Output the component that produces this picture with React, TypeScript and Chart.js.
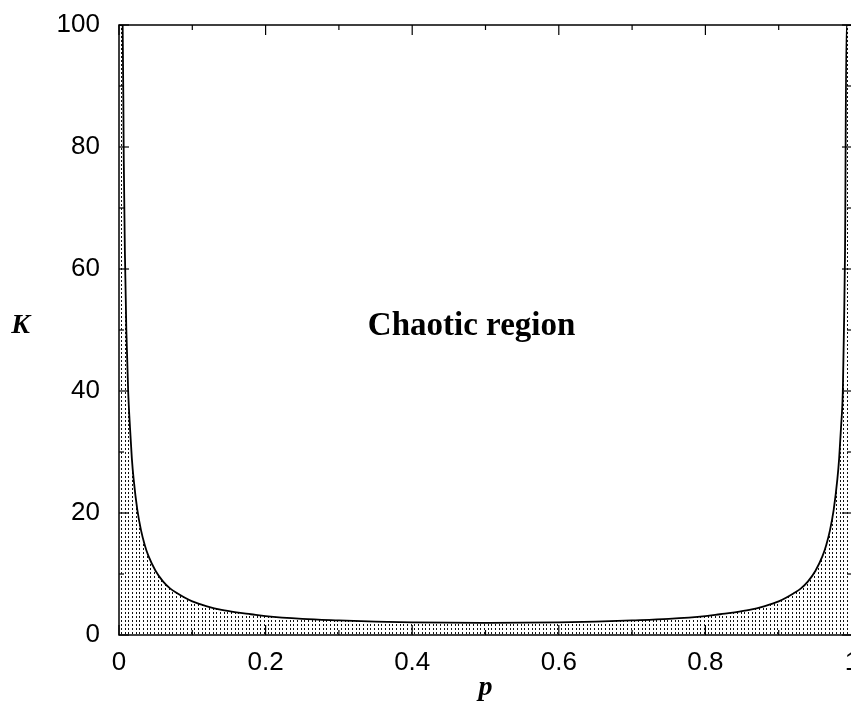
import React, { useEffect, useRef } from "react";
import { Chart, registerables } from "chart.js";

Chart.register(...registerables);

// p (x axis) and K (y axis)
const pValues = [
  0, 0.005, 0.0065, 0.008, 0.01, 0.0125, 0.015, 0.0175, 0.02, 0.025, 0.03, 0.035, 0.04, 0.05,
  0.06, 0.07, 0.08, 0.09, 0.1, 0.12, 0.14, 0.16, 0.18, 0.2, 0.25, 0.3, 0.35, 0.4, 0.45,
  0.5,
  0.55, 0.6, 0.65, 0.7, 0.75, 0.8, 0.82, 0.84, 0.86, 0.88, 0.9, 0.91, 0.92, 0.93, 0.94,
  0.95, 0.96, 0.965, 0.97, 0.975, 0.98, 0.9825, 0.985, 0.9875, 0.989, 0.9905, 0.9925, 1,
];
const kValues = [
  100, 100, 78, 63, 50, 40, 34, 29, 25.5, 20.5, 17.2, 14.8, 13, 10.5,
  8.8, 7.6, 6.8, 6.1, 5.5, 4.7, 4.1, 3.7, 3.4, 3.1, 2.65, 2.4, 2.2, 2.08, 2.02,
  2.0,
  2.02, 2.08, 2.2, 2.4, 2.65, 3.1, 3.4, 3.7, 4.1, 4.7, 5.5, 6.1, 6.8, 7.6, 8.8,
  10.5, 13, 14.8, 17.2, 20.5, 25.5, 29, 34, 40, 50, 63, 100, 100,
];

const xTickLabels = ["0", "0.2", "0.4", "0.6", "0.8", "1"];
const yTickLabels = ["0", "20", "40", "60", "80", "100"];

const regionLabel = "Chaotic region";
const xTitle = "p";
const yTitle = "K";

function makePattern(): CanvasPattern | string {
  const tile = document.createElement("canvas");
  tile.width = 11;
  tile.height = 4;
  const c = tile.getContext("2d");
  if (!c) return "#bbb";
  c.fillStyle = "#111";
  [0, 4, 7].forEach((x) => c.fillRect(x, 0, 1, 2));
  const p = c.createPattern(tile, "repeat");
  return p || "#bbb";
}

const framePlugin = {
  id: "frame",
  afterDatasetsDraw(chart: any) {
    const { ctx, chartArea: a, scales } = chart;
    const x = scales.x;
    const y = scales.y;
    ctx.save();
    ctx.strokeStyle = "#000";
    ctx.lineWidth = 1.5;
    ctx.strokeRect(a.left, a.top, a.right - a.left, a.bottom - a.top);
    ctx.lineWidth = 1.2;
    const seg = (x1: number, y1: number, x2: number, y2: number) => {
      ctx.beginPath();
      ctx.moveTo(x1, y1);
      ctx.lineTo(x2, y2);
      ctx.stroke();
    };
    for (let i = 0; i <= 10; i++) {
      const px = x.getPixelForValue(i / 10);
      const len = i % 2 === 0 ? 10 : 5;
      seg(px, a.bottom, px, a.bottom - len);
      seg(px, a.top, px, a.top + len);
    }
    for (let i = 0; i <= 10; i++) {
      const py = y.getPixelForValue(i * 10);
      const len = i % 2 === 0 ? 10 : 5;
      seg(a.left, py, a.left + len, py);
      seg(a.right, py, a.right - len, py);
    }
    ctx.restore();
  },
  afterDraw(chart: any) {
    const { ctx, chartArea: a, scales } = chart;
    const x = scales.x;
    const y = scales.y;
    ctx.save();
    ctx.fillStyle = "#000";
    ctx.textAlign = "center";
    ctx.textBaseline = "alphabetic";
    ctx.font = "bold 33px 'Liberation Serif'";
    ctx.fillText(regionLabel, x.getPixelForValue(0.481), y.getPixelForValue(49.2));
    ctx.font = "italic bold 28px 'Liberation Serif'";
    ctx.fillText(yTitle, 20.5, y.getPixelForValue(49.5));
    ctx.fillText(xTitle, (a.left + a.right) / 2, 695);
    ctx.restore();
  },
};

export default function App() {
  const ref = useRef<HTMLCanvasElement | null>(null);
  useEffect(() => {
    const canvas = ref.current;
    if (!canvas) return;
    const chart = new Chart(canvas, {
      type: "line",
      data: {
        datasets: [
          {
            data: pValues.map((p, i) => ({ x: p, y: kValues[i] })),
            borderColor: "#000",
            borderWidth: 1.8,
            pointRadius: 0,
            fill: "origin",
            backgroundColor: makePattern() as any,
            cubicInterpolationMode: "monotone",
          },
        ],
      },
      options: {
        responsive: false,
        animation: false,
        devicePixelRatio: 1,
        layout: { padding: { top: 25, right: 6, bottom: 0, left: 0 } },
        plugins: { legend: { display: false }, tooltip: { enabled: false } },
        scales: {
          x: {
            type: "linear",
            min: 0,
            max: 1,
            grid: { display: false, drawTicks: false },
            border: { display: false },
            ticks: {
              stepSize: 0.2,
              autoSkip: false,
              maxRotation: 0,
              color: "#000",
              padding: 12,
              font: { family: "'Liberation Sans'", size: 26 },
              callback: (v: any) => xTickLabels[Math.round(Number(v) * 5)] ?? "",
            },
            afterFit: (s: any) => {
              s.height = 75;
              s.paddingLeft = 0;
              s.paddingRight = 0;
            },
          },
          y: {
            type: "linear",
            min: 0,
            max: 100,
            grid: { display: false, drawTicks: false },
            border: { display: false },
            ticks: {
              stepSize: 20,
              autoSkip: false,
              color: "#000",
              padding: 19,
              font: { family: "'Liberation Sans'", size: 26 },
              callback: (v: any) => yTickLabels[Math.round(Number(v) / 20)] ?? "",
            },
            afterFit: (s: any) => {
              s.width = 119;
              s.paddingTop = 0;
              s.paddingBottom = 0;
            },
          },
        },
      },
      plugins: [framePlugin],
    });
    return () => chart.destroy();
  }, []);
  return (
    <div
      style={{
        position: "absolute",
        left: 0,
        top: 0,
        width: 851,
        height: 710,
        overflow: "hidden",
        background: "#fff",
      }}
    >
      <canvas ref={ref} width={858} height={710} style={{ width: 858, height: 710, display: "block" }} />
    </div>
  );
}
